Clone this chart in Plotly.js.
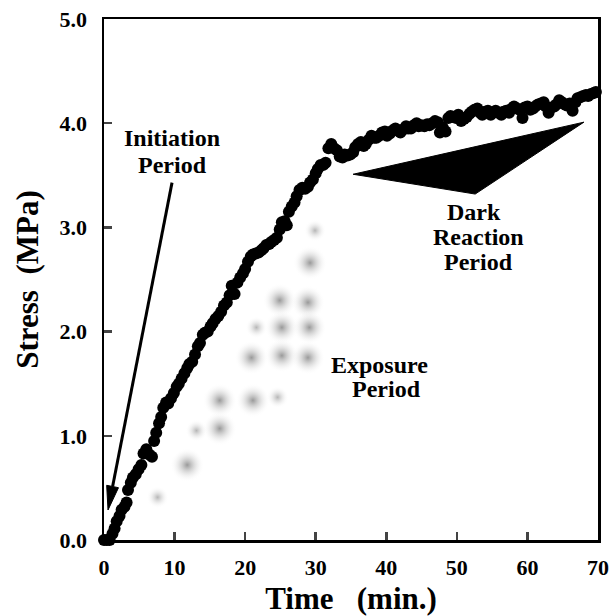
<!DOCTYPE html>
<html>
<head>
<meta charset="utf-8">
<script src="https://cdn.plot.ly/plotly-3.0.1.min.js"></script>
<style>
html,body{margin:0;padding:0;background:#fff;}
#chart{width:614px;height:616px;}
</style>
</head>
<body>
<div id="chart"></div>
<script>
// Stress data (time in min, stress in MPa)
const timeMin = [
 0,0.4,0.8,1.2,1.5,1.8,2.2,2.5,2.9,3.2,3.4,3.8,4.1,4.5,4.9,5.3,5.6,6.0,6.4,6.8,
 7.1,7.4,7.8,8.1,8.4,8.8,9.1,9.5,9.9,10.3,10.6,11.0,11.4,11.8,12.1,12.5,12.9,13.3,13.6,14.0,
 14.3,14.7,15.1,15.4,15.8,16.2,16.6,17.0,17.4,17.8,18.1,18.5,18.9,19.3,19.7,20.0,20.4,20.8,21.1,21.5,
 21.9,22.3,22.6,23.0,23.4,23.7,24.1,24.5,24.9,25.2,25.6,25.9,26.2,26.6,27.0,27.3,27.7,28.1,28.5,28.9,
 29.2,29.6,30.0,30.3,30.7,31.1,31.4,31.8,32.2,32.6,33.0,33.4,33.8,34.1,34.5,34.9,35.3,35.6,36.0,36.4,
 36.8,37.1,37.5,37.9,38.3,38.6,39.0,39.4,39.8,40.1,40.5,40.9,41.3,41.6,42.0,42.4,42.8,43.1,43.5,43.9,
 44.3,44.6,45.0,45.4,45.8,46.1,46.5,46.9,47.3,47.6,48.0,48.4,48.8,49.1,49.5,49.9,50.2,50.6,51.0,51.4,
 51.8,52.1,52.5,52.9,53.3,53.6,54.0,54.4,54.8,55.1,55.5,55.9,56.3,56.6,57.0,57.4,57.8,58.1,58.5,58.9,
 59.3,59.6,60.0,60.4,60.8,61.1,61.5,61.9,62.3,62.6,63.0,63.4,63.8,64.1,64.5,64.9,65.3,65.6,66.0,66.4,
 66.8,67.1,67.5,67.9,68.3,68.6,69.0,69.4,69.7
];
const stressMPa = [
 0,0,0,0.06,0.11,0.18,0.23,0.29,0.32,0.36,0.48,0.55,0.60,0.63,0.68,0.72,0.83,0.87,0.82,0.80,
 0.95,1.03,1.12,1.18,1.27,1.32,1.31,1.36,1.41,1.47,1.50,1.55,1.60,1.65,1.69,1.71,1.78,1.86,1.89,1.97,
 1.99,2.00,2.05,2.08,2.12,2.15,2.19,2.25,2.28,2.35,2.44,2.36,2.47,2.52,2.56,2.60,2.67,2.72,2.74,2.75,
 2.76,2.78,2.80,2.83,2.84,2.86,2.88,2.90,2.98,3.05,3.06,3.02,3.15,3.20,3.24,3.30,3.36,3.38,3.37,3.39,
 3.43,3.46,3.52,3.56,3.60,3.60,3.62,3.76,3.80,3.76,3.74,3.68,3.67,3.70,3.69,3.70,3.72,3.77,3.80,3.82,
 3.78,3.80,3.84,3.88,3.86,3.86,3.88,3.91,3.92,3.88,3.90,3.93,3.95,3.93,3.91,3.94,3.97,3.95,3.95,3.98,
 4.00,3.97,3.98,3.97,3.99,3.98,4.00,4.02,4.01,3.91,3.96,3.92,4.05,4.07,4.06,4.05,4.08,4.02,4.04,4.06,
 4.09,4.11,4.13,4.14,4.10,4.08,4.11,4.12,4.08,4.10,4.12,4.10,4.08,4.11,4.12,4.10,4.14,4.16,4.14,4.13,
 4.05,4.15,4.16,4.13,4.14,4.16,4.18,4.19,4.20,4.16,4.10,4.15,4.16,4.18,4.22,4.20,4.18,4.17,4.19,4.12,
 4.20,4.24,4.25,4.26,4.27,4.26,4.28,4.29,4.30
];

// Exposure-period halftone spots
const spotBigX = [29.2,24.9,28.9,25.2,29.1,20.9,25.2,28.9,16.4,21.1,16.4,11.8];
const spotBigY = [2.66,2.30,2.28,2.04,2.04,1.75,1.77,1.75,1.34,1.34,1.07,0.72];
const spotSmallX = [29.9,21.6,24.6,13.1,7.6];
const spotSmallY = [2.97,2.04,1.37,1.05,0.41];

// Tick values / labels
const xTicks = [0,10,20,30,40,50,60,70];
const yTicks = [0,1,2,3,4,5];
const yTickText = ['0.0','1.0','2.0','3.0','4.0','5.0'];

// Annotation geometry (data coordinates)
const arrowTailX = 9.64, arrowTailY = 3.43;
const arrowNeckX = 1.22, arrowNeckY = 0.513;
const arrowHeadX = [0.57, 2.05, 0.38];
const arrowHeadY = [0.288, 0.502, 0.525];
const wedgeX = [35.3, 68.0, 52.6];
const wedgeY = [3.51, 4.01, 3.32];

const serif = 'Liberation Serif, Times New Roman, serif';

const spotMarker = (size, c) => ({size: size, color: 'rgba(255,255,255,0)',
  gradient: {type: 'radial', color: c}, line: {width: 0, color: 'rgba(0,0,0,0)'}});

const traces = [
  {x: spotBigX, y: spotBigY, mode: 'markers', type: 'scatter', hoverinfo: 'skip', showlegend: false,
   marker: spotMarker(34, 'rgba(135,135,135,0.85)')},
  {x: spotSmallX, y: spotSmallY, mode: 'markers', type: 'scatter', hoverinfo: 'skip', showlegend: false,
   marker: spotMarker(22, 'rgba(150,150,150,0.7)')},
  {x: timeMin, y: stressMPa, mode: 'markers', type: 'scatter', showlegend: false, cliponaxis: false,
   marker: {size: 12, color: '#000', line: {width: 0}}}
];

const txt = (x, y, t) => ({x: x, y: y, xref: 'x', yref: 'y', text: t, showarrow: false,
  font: {family: serif, size: 24, color: '#000', weight: 'bold'}});

const triPath = (xs, ys) => 'M ' + xs[0] + ',' + ys[0] + ' L ' + xs[1] + ',' + ys[1] + ' L ' + xs[2] + ',' + ys[2] + ' Z';

const layout = {
  width: 614, height: 616,
  margin: {l: 104, r: 16, t: 19, b: 76},
  paper_bgcolor: '#fff', plot_bgcolor: '#fff',
  font: {family: serif, color: '#000'},
  xaxis: {
    range: [0, 70], tickvals: xTicks, ticks: 'inside', ticklen: 8, tickwidth: 2.5,
    showline: true, linewidth: 2.5, linecolor: '#000', mirror: true,
    showgrid: false, zeroline: false,
    tickfont: {family: serif, size: 22, color: '#000', weight: 'bold'},
    ticklabelstandoff: 6,
    title: {text: 'Time   (min.)', font: {family: serif, size: 31, color: '#000', weight: 'bold'}, standoff: 16}
  },
  yaxis: {
    range: [0, 5], tickvals: yTicks, ticktext: yTickText, ticks: 'inside', ticklen: 8, tickwidth: 2.5,
    showline: true, linewidth: 2.5, linecolor: '#000', mirror: true,
    showgrid: false, zeroline: false,
    tickfont: {family: serif, size: 22, color: '#000', weight: 'bold'},
    ticklabelstandoff: 10,
    title: {text: 'Stress  (MPa)', font: {family: serif, size: 31, color: '#000', weight: 'bold'}, standoff: 12}
  },
  shapes: [
    {type: 'path', xref: 'x', yref: 'y', path: triPath(wedgeX, wedgeY),
     fillcolor: '#000', line: {color: '#000', width: 1}},
    {type: 'line', xref: 'x', yref: 'y', x0: arrowTailX, y0: arrowTailY, x1: arrowNeckX, y1: arrowNeckY,
     line: {color: '#000', width: 3}},
    {type: 'path', xref: 'x', yref: 'y', path: triPath(arrowHeadX, arrowHeadY),
     fillcolor: '#000', line: {color: '#000', width: 1}}
  ],
  annotations: [
    txt(9.64, 3.86, 'Initiation'),
    txt(9.7, 3.60, 'Period'),
    txt(52.4, 3.15, 'Dark'),
    txt(53.0, 2.91, 'Reaction'),
    txt(53.0, 2.67, 'Period'),
    txt(39.1, 1.68, 'Exposure'),
    txt(40.0, 1.445, 'Period')
  ]
};

Plotly.newPlot('chart', traces, layout, {displayModeBar: false, staticPlot: true});
</script>
</body>
</html>
